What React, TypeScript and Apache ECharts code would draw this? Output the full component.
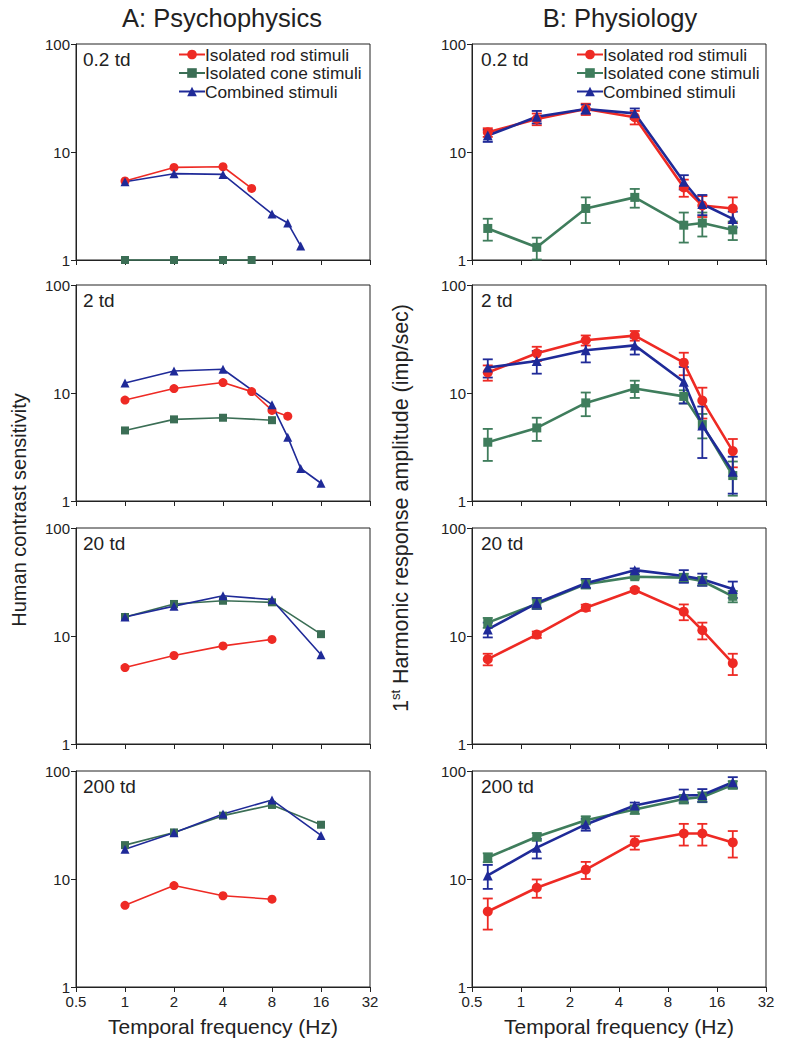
import React, { useEffect, useRef } from "react";
import * as echarts from "echarts";

const panelLabels = ["0.2 td", "2 td", "20 td", "200 td"];
const seriesNames = ["Isolated rod stimuli", "Isolated cone stimuli", "Combined stimuli"];
const xTicks = [0.5, 1, 2, 4, 8, 16, 32];
const yTicks = [1, 10, 100];

// A: Psychophysics (human contrast sensitivity)
const psyRodFreq = [[1, 2, 4, 6], [1, 2, 4, 6, 8, 10], [1, 2, 4, 8], [1, 2, 4, 8]];
const psyRodVal = [[5.4, 7.2, 7.3, 4.6], [8.6, 11, 12.5, 10.3, 6.9, 6.1], [5.1, 6.6, 8.1, 9.3], [5.7, 8.7, 7.0, 6.5]];
const psyConeFreq = [[1, 2, 4, 6], [1, 2, 4, 8], [1, 2, 4, 8, 16], [1, 2, 4, 8, 16]];
const psyConeVal = [[1, 1, 1, 1], [4.5, 5.7, 5.9, 5.6], [15, 19.8, 21.2, 20.5, 10.4], [20.6, 27, 38.6, 48.5, 31.8]];
const psyCombFreq = [[1, 2, 4, 8, 10, 12], [1, 2, 4, 8, 10, 12, 16], [1, 2, 4, 8, 16], [1, 2, 4, 8, 16]];
const psyCombVal = [[5.3, 6.3, 6.2, 2.67, 2.2, 1.35], [12.4, 16, 16.6, 7.8, 3.9, 2.0, 1.46], [15, 18.9, 23.6, 21.7, 6.7], [18.9, 26.8, 40, 54, 25.3]];

// B: Physiology (1st harmonic response amplitude, imp/sec)
const physFreq = [0.625, 1.25, 2.5, 5, 10, 13, 20];
const physRodVal = [
  [15.2, 20.2, 25, 21, 4.7, 3.2, 3.0],
  [15.5, 23.3, 30.8, 34, 19.1, 8.5, 2.9],
  [6.1, 10.3, 18.3, 26.7, 16.8, 11.3, 5.6],
  [5.0, 8.3, 12.2, 21.8, 26.4, 26.4, 21.8],
];
const physRodErr = [
  [1.4, 2.5, 3, 3, 0.85, 0.7, 0.8],
  [2.5, 3.5, 3.3, 3.5, 4.5, 2.7, 0.85],
  [0.75, 0.7, 1.2, 1, 2.8, 2, 1.25],
  [1.6, 1.6, 2.2, 3.1, 6, 6, 6],
];
const physConeVal = [
  [1.96, 1.31, 3.0, 3.8, 2.1, 2.2, 1.9],
  [3.5, 4.75, 8.1, 11, 9.3, 5.1, 1.72],
  [13.3, 19.8, 30.2, 35.4, 34.7, 32.3, 23.3],
  [15.8, 24.6, 35, 44, 55, 57.4, 74.4],
];
const physConeErr = [
  [0.45, 0.3, 0.8, 0.75, 0.65, 0.55, 0.37],
  [1.15, 1.15, 2, 2, 1.3, 1.3, 0.6],
  [1.4, 2, 2.7, 1.5, 3, 3, 2.8],
  [1.5, 2, 3, 4, 5, 6, 6],
];
const physCombVal = [
  [14.2, 21.2, 25, 22.8, 5.3, 3.3, 2.4],
  [17.2, 19.8, 24.9, 27.6, 12.7, 5.0, 1.87],
  [11.5, 20.2, 30.8, 40.7, 35.9, 33.5, 27.2],
  [10.8, 19.5, 32, 48, 59.3, 60, 78.7],
];
const physCombErr = [
  [1.8, 2.8, 2.4, 2.5, 0.8, 0.7, 0.4],
  [3.3, 4.7, 5.7, 4.9, 4.7, 2.5, 0.7],
  [1.8, 2.3, 3, 1.5, 4.8, 4.3, 4.7],
  [2.7, 4, 4, 3, 8, 8, 9],
];

const RED = "#ee2a24";
const GREEN_A = "#3b6e55";
const GREEN_B = "#3f7d5c";
const BLUE = "#1f2a98";
const FONT = "Liberation Sans, Arial, Helvetica, sans-serif";
const INK = "#222";

const gridTops = [44, 285, 528, 771];
const gridH = 216;
const colLeft = [76, 472];
const gridW = 294;

export default function App() {
  const ref = useRef<HTMLDivElement>(null);
  useEffect(() => {
    document.body.style.margin = "0";
    if (!ref.current) return;
    const chart = echarts.init(ref.current, null, { renderer: "svg" });

    const grids: any[] = [];
    const xAxes: any[] = [];
    const yAxes: any[] = [];
    const series: any[] = [];
    const graphics: any[] = [];

    for (let c = 0; c < 2; c++) {
      for (let i = 0; i < 4; i++) {
        const g = c * 4 + i;
        grids.push({
          left: colLeft[c], top: gridTops[i], width: gridW, height: gridH,
          show: true, borderColor: INK, borderWidth: 1, backgroundColor: "transparent",
        });
        const bottom = i === 3;
        xAxes.push({
          type: "log", logBase: 2, gridIndex: g, min: 0.5, max: 32, interval: 1,
          axisLine: { show: true, lineStyle: { color: INK, width: 1 } },
          axisTick: { show: true, inside: false, length: 5, lineStyle: { color: INK } },
          splitLine: { show: false },
          axisLabel: {
            show: bottom, margin: 7, fontSize: 15, color: INK, fontFamily: FONT,
            formatter: (v: number) => {
              const t = xTicks.find((k) => Math.abs(k - v) < 1e-6);
              return t !== undefined ? String(t) : "";
            },
          },
          name: bottom ? "Temporal frequency (Hz)" : "",
          nameLocation: "middle", nameGap: 29,
          nameTextStyle: { fontSize: 21, color: INK, fontFamily: FONT },
        });
        yAxes.push({
          type: "log", logBase: 10, gridIndex: g, min: 1, max: 100, interval: 1,
          axisLine: { show: true, lineStyle: { color: INK, width: 1 } },
          axisTick: { show: true, inside: false, length: 5, lineStyle: { color: INK } },
          splitLine: { show: false },
          axisLabel: {
            show: true, margin: 6, fontSize: 15, color: INK, fontFamily: FONT,
            formatter: (v: number) => {
              const t = yTicks.find((k) => Math.abs(k - v) < 1e-6);
              return t !== undefined ? String(t) : "";
            },
          },
        });
        graphics.push({
          type: "text", left: colLeft[c] + (c === 0 ? 7 : 9), top: gridTops[i] + 6,
          style: { text: panelLabels[i], fontSize: 19, fill: INK, fontFamily: FONT },
        });
      }
    }

    const suffix = ["", " "];
    const mkLine = (c: number, i: number, k: number, freq: number[], vals: number[]) => {
      const g = c * 4 + i;
      const colors = [RED, c === 0 ? GREEN_A : GREEN_B, BLUE];
      const symbols = ["circle", "rect", "triangle"];
      const sizes = c === 0 ? [9, 8, 9] : [10, 9, 10];
      return {
        type: "line",
        name: seriesNames[k] + suffix[c],
        xAxisIndex: g, yAxisIndex: g,
        data: freq.map((f, j) => [f, vals[j]]),
        symbol: symbols[k], symbolSize: sizes[k],
        showAllSymbol: true,
        clip: false,
        lineStyle: { color: colors[k], width: c === 0 ? 1.6 : 2.6 },
        itemStyle: { color: colors[k] },
        z: 3,
      };
    };
    const mkErr = (i: number, k: number, vals: number[], errs: number[]) => {
      const g = 4 + i;
      const color = [RED, GREEN_B, BLUE][k];
      return {
        type: "custom",
        name: "errorbar-" + k,
        xAxisIndex: g, yAxisIndex: g,
        encode: { x: 0, y: [1, 2] },
        data: physFreq.map((f, j) => [f, vals[j] - errs[j], vals[j] + errs[j]]),
        z: 2,
        renderItem: (params: any, api: any) => {
          const x = api.value(0);
          const p1 = api.coord([x, api.value(1)]);
          const p2 = api.coord([x, api.value(2)]);
          const hw = 5;
          const style = { stroke: color, lineWidth: 1.8, fill: null };
          return {
            type: "group",
            children: [
              { type: "line", shape: { x1: p1[0], y1: p1[1], x2: p2[0], y2: p2[1] }, style },
              { type: "line", shape: { x1: p1[0] - hw, y1: p1[1], x2: p1[0] + hw, y2: p1[1] }, style },
              { type: "line", shape: { x1: p2[0] - hw, y1: p2[1], x2: p2[0] + hw, y2: p2[1] }, style },
            ],
          };
        },
      };
    };

    for (let i = 0; i < 4; i++) {
      series.push(mkLine(0, i, 0, psyRodFreq[i], psyRodVal[i]));
      series.push(mkLine(0, i, 1, psyConeFreq[i], psyConeVal[i]));
      series.push(mkLine(0, i, 2, psyCombFreq[i], psyCombVal[i]));
    }
    const physVals = [physRodVal, physConeVal, physCombVal];
    const physErrs = [physRodErr, physConeErr, physCombErr];
    for (let i = 0; i < 4; i++) {
      for (let k = 0; k < 3; k++) {
        series.push(mkErr(i, k, physVals[k][i], physErrs[k][i]));
        series.push(mkLine(1, i, k, physFreq, physVals[k][i]));
      }
    }

    graphics.push(
      {
        type: "text", x: 222, y: 18,
        style: { text: "A: Psychophysics", fontSize: 25.5, fill: INK, fontFamily: FONT, align: "center", verticalAlign: "middle" },
      },
      {
        type: "text", x: 620, y: 18,
        style: { text: "B: Physiology", fontSize: 25.5, fill: INK, fontFamily: FONT, align: "center", verticalAlign: "middle" },
      },
      {
        type: "text", x: 19, y: 510, rotation: Math.PI / 2,
        style: { text: "Human contrast sensitivity", fontSize: 20, fill: INK, fontFamily: FONT, align: "center", verticalAlign: "middle" },
      },
      {
        type: "text", x: 401, y: 508, rotation: Math.PI / 2,
        style: {
          text: "{a|1}{s|st}{a| Harmonic response amplitude (imp/sec)}",
          fill: INK, fontFamily: FONT, align: "center", verticalAlign: "middle",
          rich: {
            a: { fontSize: 21.5, fontFamily: FONT, fill: INK, lineHeight: 24 },
            s: { fontSize: 13, fontFamily: FONT, fill: INK, lineHeight: 24, verticalAlign: "top", padding: [0, 0, 9, 0] },
          },
        },
      }
    );

    const legendBase = {
      orient: "vertical", itemWidth: 26, itemHeight: 12, itemGap: 1.5,
      selectedMode: false,
      textStyle: { fontSize: 17.3, color: INK, fontFamily: FONT, padding: [0, 0, 0, -5] },
      padding: 0,
      formatter: (n: string) => n.trim(),
    };

    chart.setOption({
      animation: false,
      backgroundColor: "#fff",
      grid: grids,
      xAxis: xAxes,
      yAxis: yAxes,
      legend: [
        { ...legendBase, left: 178, top: 46, data: seriesNames },
        { ...legendBase, left: 576, top: 46, data: seriesNames.map((n) => n + " ") },
      ],
      graphic: graphics,
      series,
    });
    return () => chart.dispose();
  }, []);
  return <div ref={ref} style={{ width: 789, height: 1050 }} />;
}
